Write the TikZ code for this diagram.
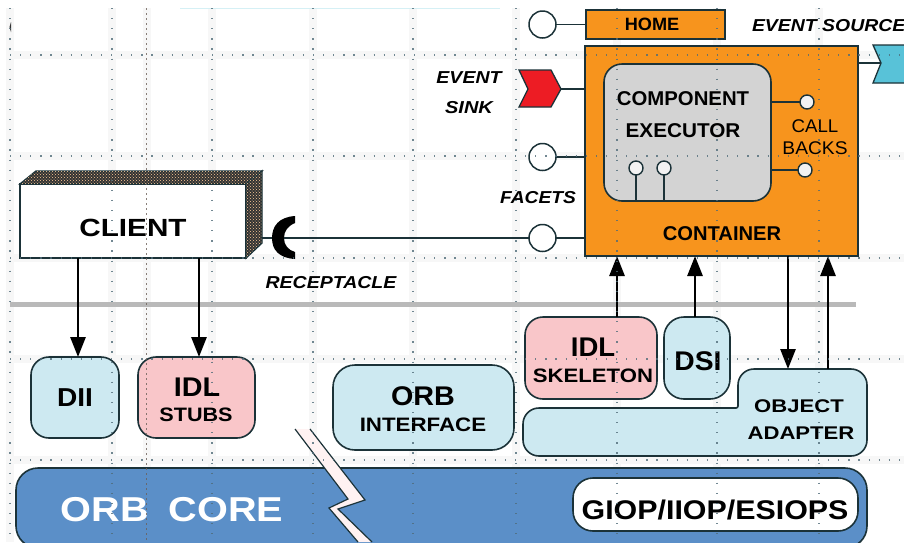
\documentclass[tikz,border=0pt]{standalone}
\usepackage{fontspec}
\setmainfont{Liberation Sans}
\usetikzlibrary{arrows.meta,patterns}
\definecolor{orangeC}{HTML}{F7941D}
\definecolor{paleblue}{HTML}{CDE9F1}
\definecolor{pinkC}{HTML}{F9C6C9}
\definecolor{execgray}{HTML}{D3D3D3}
\definecolor{sinkred}{HTML}{ED1C24}
\definecolor{sourceteal}{HTML}{58C2D8}
\definecolor{coreblue}{HTML}{5B8FC8}
\definecolor{edge}{HTML}{1B3238}
\definecolor{griddot}{HTML}{4F6B78}
\definecolor{griddark}{HTML}{6B5F58}
\definecolor{barcol}{HTML}{B9B9B9}
\newcommand{\lblcore}[3]{\pgfmathsetmacro{\lsz}{#1*1.08}\pgfmathsetmacro{\lst}{#2/1.08}\scalebox{\lst}[1]{\fontsize{\lsz pt}{\lsz pt}\selectfont #3}}
\newcommand{\lbl}[3]{\lblcore{#1}{#2}{\bfseries #3}}
\newcommand{\lbi}[3]{\lblcore{#1}{#2}{\bfseries\itshape #3}}
\newcommand{\lbr}[3]{\lblcore{#1}{#2}{#3}}
\tikzset{
  x=1pt,y=-1pt,
  box/.style={draw=edge,line width=1.6pt,outer sep=0pt,inner sep=0pt,rounded corners=18pt},
  sq/.style={draw=edge,line width=1.6pt,outer sep=0pt,inner sep=0pt},
  lab/.style={inner sep=0pt,outer sep=0pt,text=black,yshift=-0.8pt},
  port/.style={circle,draw=edge,line width=1.5pt,fill=white,minimum size=27pt,inner sep=0pt,outer sep=0pt},
  tiny port/.style={circle,draw=edge,line width=1.4pt,fill=white!90!gray,minimum size=14pt,inner sep=0pt,outer sep=0pt},
  wire/.style={draw=edge,line width=1.5pt},
  flow/.style={draw=black,line width=2.8pt,-{Triangle[length=20pt,width=15pt]}},
  gridline/.style={griddot,line width=1.2pt,opacity=.8,dash pattern=on 1.2pt off 8.9pt},
  gridhalo/.style={black!3,line width=8pt},
}
\begin{document}
\begin{tikzpicture}
\useasboundingbox (0,0) rectangle (904,542);
\fill[white] (0,0) rectangle (904,542);
\foreach \gx in {10,112,146.5,212,313,413,516,617,717,819}
  \draw[gridhalo] (\gx,8) -- (\gx,542);
\foreach \gy in {55,156,258,359,460}
  \draw[gridhalo] (10,\gy) -- (904,\gy);
\draw[sourceteal!25,line width=1pt] (180,8.5) -- (500,8.5);
\fill[black!80] (11,22) -- (9.5,27) -- (11,32) -- cycle;

% separator
\draw[barcol,line width=5pt] (10,304) -- (856,304);

% orb core
\node[box,fill=coreblue,rounded corners=22pt,minimum width=851pt,minimum height=80pt] (core) at (441.5,508) {};
\node[box,fill=white,rounded corners=20pt,minimum width=285pt,minimum height=53pt] (giop) at (715.5,504.5) {};
\node[lab] (giopt) at (715,509) {\lbl{25}{1.215}{GIOP/IIOP/ESIOPS}};
\node[lab,text=white] (coret) at (172,509) {\lbl{32}{1.24}{ORB\hspace{.5em}CORE}};

% break
\fill[white!95!red] (295,429) -- (348,499) -- (329,508) -- (358,542) -- (372,542) -- (338,509) -- (365,500) -- (310,429) -- cycle;
\draw[edge,line width=1.2pt] (295,429) -- (348,499) -- (329,508) -- (358,542);
\draw[edge,line width=1.2pt] (310,429) -- (365,500) -- (338,509) -- (372,542);

% client
\node[sq,fill=white,minimum width=226pt,minimum height=74pt] (client) at (133,221) {};
\coordinate (ctl) at (36,171); \coordinate (ctr) at (262,171); \coordinate (cbr) at (262,243);
\draw[edge,line width=1.4pt,fill=black!80] (client.north west) -- (ctl) -- (ctr) -- (client.north east) -- cycle;
\draw[edge,line width=1.4pt,fill=black!80] (client.north east) -- (ctr) -- (cbr) -- (client.south east) -- cycle;
\fill[pattern=crosshatch dots,pattern color=orange!40!white] (client.north west) -- (ctl) -- (ctr) -- (cbr) -- (client.south east) -- (client.north east) -- cycle;
\node[lab] (clientt) at (133,227) {\lbl{23}{1.29}{CLIENT}};

% lower boxes
\node[box,fill=paleblue,minimum width=88pt,minimum height=81pt] (dii) at (75,397.5) {\lbl{24}{1.17}{DII}};
\node[box,fill=pinkC,minimum width=117pt,minimum height=81pt] (stubs) at (196.5,397.5) {};
\node[lab] (stubst1) at (197,386) {\lbl{25}{1.15}{IDL}};
\node[lab] (stubst2) at (196,414) {\lbl{18}{1.2}{STUBS}};
\node[box,fill=paleblue,rounded corners=22pt,minimum width=181pt,minimum height=85pt] (orbi) at (423.5,407.5) {};
\node[lab] (orbit1) at (423,395) {\lbl{25}{1.15}{ORB}};
\node[lab] (orbit2) at (423,424) {\lbl{18}{1.24}{INTERFACE}};
\node[box,fill=pinkC,minimum width=132pt,minimum height=82pt] (skel) at (591,358) {};
\node[lab] (skelt1) at (593,346) {\lbl{25}{1.1}{IDL}};
\node[lab] (skelt2) at (593,375) {\lbl{18}{1.23}{SKELETON}};
\node[box,fill=paleblue,rounded corners=20pt,minimum width=66pt,minimum height=82pt] (dsi) at (697,358) {};
\node[lab] (dsit) at (698,360) {\lbl{25}{1.13}{DSI}};

% object adapter
\coordinate (oa1) at (788,369); \coordinate (oa2) at (828,369);
\draw[edge,line width=1.6pt,fill=paleblue,rounded corners=2pt] (600,408) -- (738,408) [rounded corners=16pt] -- (738,369) -- (867,369) -- (867,456) -- (523,456) -- (523,408) -- cycle;
\node[lab] (oat1) at (799,405) {\lbl{17}{1.3}{OBJECT}};
\node[lab] (oat2) at (801,432) {\lbl{17}{1.3}{ADAPTER}};

% container
\node[sq,fill=orangeC,minimum width=273pt,minimum height=210pt] (container) at (721.5,151) {};
\node[sq,fill=orangeC,minimum width=139pt,minimum height=29pt] (home) at (655.5,24.5) {};
\node[lab] (homet) at (652,24) {\lbl{16.5}{1.1}{HOME}};
\node[box,fill=execgray,minimum width=167pt,minimum height=137pt] (exec) at (687.5,132.5) {};
\node[lab] (compt) at (683,98) {\lbl{18.5}{1.1}{COMPONENT}};
\node[lab] (exect) at (683,130) {\lbl{18.5}{1.12}{EXECUTOR}};
\node[lab] (contt) at (722,233) {\lbl{18.5}{1.09}{CONTAINER}};
\node[lab] (callt) at (815,125) {\lbr{17}{1.1}{CALL}};
\node[lab] (backt) at (815,147) {\lbr{17}{1.13}{BACKS}};

% ports
\node[port] (fhome) at (542.5,24.5) {};
\node[port] (fmid) at (542.5,157) {};
\node[port] (fbot) at (542.5,238) {};
\draw[wire] (fhome.east) -- (home.west);
\draw[wire] (fmid.east) -- (fmid.east -| container.west);
\draw[wire] (fbot.east) -- (fbot.east -| container.west);

\node[tiny port] (cb1) at (807,102) {};
\node[tiny port] (cb2) at (805,170) {};
\node[tiny port] (in1) at (636,168) {};
\node[tiny port] (in2) at (664,168) {};
\draw[wire] (cb1.west -| exec.east) -- (cb1.west);
\draw[wire] (cb2.west -| exec.east) -- (cb2.west);
\draw[wire] (in1.south) -- (in1.south |- exec.south);
\draw[wire] (in2.south) -- (in2.south |- exec.south);

% event sink
\coordinate (sinktip) at (561,89);
\draw[edge,line width=1.3pt,fill=sinkred] (519,70) -- (551,70) -- (sinktip) -- (551,107) -- (519,107) -- (528,89) -- cycle;
\draw[wire] (sinktip) -- (sinktip -| container.west);
\node[lab] (sinkt1) at (469,77) {\lbi{16}{1.22}{EVENT}};
\node[lab] (sinkt2) at (469,107) {\lbi{16}{1.25}{SINK}};

% event source
\coordinate (srcnotch) at (881,63);
\draw[edge,line width=1.3pt,fill=sourceteal] (873,45) -- (910,45) -- (910,83) -- (873,83) -- (srcnotch) -- cycle;
\draw[wire] (srcnotch -| container.east) -- (srcnotch);
\node[lab,anchor=west] (srct) at (752,25) {\lbi{16}{1.215}{EVENT SOURCE}};
\node[lab] (facett) at (538,197) {\lbi{16}{1.2}{FACETS}};

% receptacle
\coordinate (recfront) at (284,238); \coordinate (recback) at (272,238);
\fill[black] (295,216) .. controls (279,217) and (272,226) .. (recback) .. controls (272,250) and (279,258) .. (295,259) -- (295,252) .. controls (288,250) and (284,245) .. (recfront) .. controls (284,231) and (288,226) .. (295,223) -- cycle;
\draw[wire] (fbot.west) -- (recfront);
\draw[wire] (cbr |- recback) -- (recback);
\node[lab] (rect) at (331,282) {\lbi{16}{1.22}{RECEPTACLE}};

% flows
\draw[flow] ([xshift=3pt]dii.north |- client.south) -- ([xshift=3pt]dii.north);
\draw[flow] ([xshift=2.5pt]stubs.north |- client.south) -- ([xshift=2.5pt]stubs.north);
\draw[flow] ([xshift=26pt]skel.north) -- ([xshift=26pt]skel.north |- container.south);
\draw[flow] ([xshift=-2pt]dsi.north) -- ([xshift=-2pt]dsi.north |- container.south);
\draw[flow] (oa1 |- container.south) -- (oa1);
\draw[flow] (oa2) -- (oa2 |- container.south);

% dotted grid
\foreach \gx in {10,112,212,313,413,516,617,717,819}
  \draw[gridline] (\gx,8) -- (\gx,542);
\foreach \gy in {55,156,258,359,460}
  \draw[gridline] (10,\gy) -- (904,\gy);
\draw[griddark,line width=1.3pt,opacity=.8,dash pattern=on 2pt off 3pt] (146.5,8) -- (146.5,542);
\end{tikzpicture}
\end{document}
